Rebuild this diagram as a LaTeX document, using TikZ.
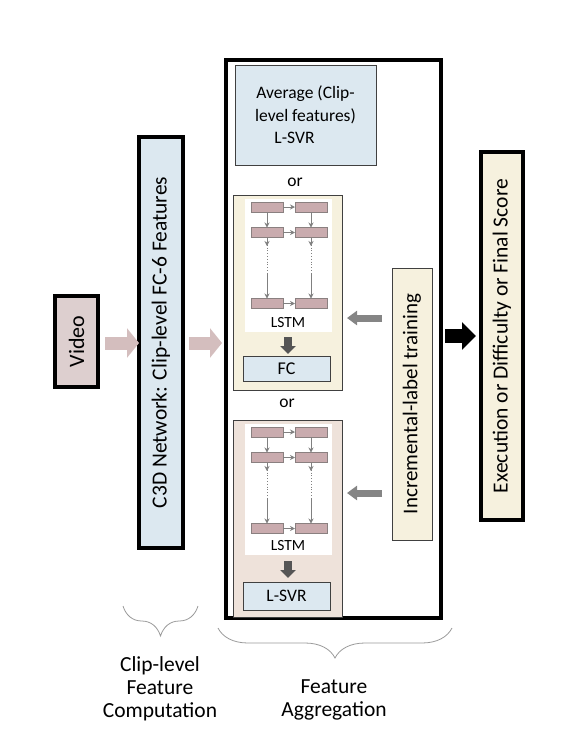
\documentclass[tikz,border=0pt]{standalone}
\usepackage{fontspec}
\setmainfont{Carlito}
\usetikzlibrary{arrows.meta,decorations.pathreplacing,calc}
\definecolor{vidfill}{HTML}{DDCFCF}
\definecolor{bluefill}{HTML}{DCE8F0}
\definecolor{beige}{HTML}{F6F1DE}
\definecolor{pinkbeige}{HTML}{EEE2DA}
\definecolor{cellfill}{HTML}{C9ABAE}
\definecolor{cellline}{HTML}{8A8080}
\definecolor{pinkarrow}{HTML}{D4BEBE}
\definecolor{grayarrow}{HTML}{858585}
\definecolor{darkarrow}{HTML}{555555}
\definecolor{bracecol}{HTML}{9A9A9A}
\tikzset{
  thickbox/.style={draw=black, line width=4pt, inner sep=0pt, outer sep=0pt},
  thinbox/.style={draw=black!75, line width=0.8pt, inner sep=0pt, outer sep=0pt},
  plainarea/.style={fill=white, inner sep=0pt, outer sep=0pt},
  cell/.style={draw=cellline, fill=cellfill, line width=1pt, minimum width=32pt, minimum height=10pt, inner sep=0pt, outer sep=0pt},
  cellarrow/.style={draw=gray, line width=1pt, -{Stealth[length=5pt,width=5pt]}},
  celldots/.style={draw=gray, line width=0.8pt, dotted},
  bigtext/.style={font=\fontsize{21.5}{23}\selectfont, align=center},
  midtext/.style={font=\fontsize{17.5}{22.5}\selectfont, align=center},
  smalltext/.style={font=\fontsize{15.5}{17}\selectfont},
  pinkfat/.style={draw=pinkarrow, line width=13pt, -{Triangle[length=12pt,width=29pt]}},
  grayfat/.style={draw=grayarrow, line width=7pt, -{Triangle[length=10pt,width=14pt]}},
  darkfat/.style={draw=darkarrow, line width=8pt, -{Triangle[length=8pt,width=15pt]}},
  blackfat/.style={draw=black, line width=14pt, -{Triangle[length=14pt,width=27pt]}},
  bracestyle/.style={draw=bracecol, line width=0.8pt, decorate, decoration={brace, mirror, amplitude=30pt}},
}
\newcommand\lstmgrid[2]{%
  \node[cell] (#1a1) at (267,207+#2) {};
  \node[cell] (#1b1) at (311,207+#2) {};
  \node[cell] (#1a2) at (267,232.5+#2) {};
  \node[cell] (#1b2) at (311,232.5+#2) {};
  \node[cell] (#1a3) at (267,303.5+#2) {};
  \node[cell] (#1b3) at (311,303.5+#2) {};
  \draw[cellarrow] (#1a1) -- (#1b1);
  \draw[cellarrow] (#1a2) -- (#1b2);
  \draw[cellarrow] (#1a3) -- (#1b3);
  \draw[cellarrow] (#1a1) -- (#1a2);
  \draw[cellarrow] (#1b1) -- (#1b2);
  \coordinate (#1la) at (267,246+#2);
  \coordinate (#1lb) at (267,274+#2);
  \coordinate (#1ra) at (311,246+#2);
  \coordinate (#1rb) at (311,274+#2);
  \draw[cellarrow] (#1a2) -- (#1la);
  \draw[cellarrow] (#1b2) -- (#1ra);
  \draw[celldots] ([yshift=4pt]#1la) -- (#1lb);
  \draw[celldots] ([yshift=4pt]#1ra) -- (#1rb);
  \draw[cellarrow] (#1lb) -- (#1a3);
  \draw[cellarrow] (#1rb) -- (#1b3);
}
\begin{document}
\begin{tikzpicture}[x=1pt,y=-1pt]
\useasboundingbox (0,0) rectangle (562,740);
% input and feature boxes
\node[thickbox, fill=vidfill, rotate=90, minimum width=91pt, minimum height=43pt, font=\fontsize{22}{24}\selectfont] (video) at (76.5,341.5) {Video};
\node[thickbox, fill=bluefill, rotate=90, minimum width=411pt, minimum height=44pt, bigtext] (c3d) at (161,342.5) {C3D Network: Clip-level FC-6 Features};
% aggregation box
\node[thickbox, minimum width=215pt, minimum height=558pt] (agg) at (333.5,339) {};
\node[thinbox, fill=bluefill, minimum width=141pt, minimum height=100pt, midtext] (avg) at (305.5,115) {Average (Clip-\\level features)\\L-SVR\hspace*{22pt}};
\node[midtext] (or1) at (295,182) {or};
% LSTM option 1
\node[thinbox, fill=beige, minimum width=109pt, minimum height=195pt] (lstm1) at (287.5,292.5) {};
\node[plainarea, minimum width=87pt, minimum height=133pt] (white1) at (288.5,265.5) {};
\lstmgrid{p}{0}
\node[smalltext] (lab1) at (288,323) {LSTM};
\coordinate (d1a) at (288,337);
\coordinate (d1b) at (288,354);
\draw[darkfat] (d1a) -- (d1b);
\node[thinbox, fill=bluefill, minimum width=87pt, minimum height=25pt, font=\fontsize{18}{20}\selectfont] (fc) at (286.5,368.5) {FC};
\node[midtext] (or2) at (287,403) {or};
% LSTM option 2
\node[thinbox, fill=pinkbeige, minimum width=109pt, minimum height=197pt] (lstm2) at (287.5,518.5) {};
\node[plainarea, minimum width=87pt, minimum height=131pt] (white2) at (288.5,489.5) {};
\lstmgrid{q}{225}
\node[smalltext] (lab2) at (288,546) {LSTM};
\coordinate (d2a) at (288,561);
\coordinate (d2b) at (288,578);
\draw[darkfat] (d2a) -- (d2b);
\node[thinbox, fill=bluefill, minimum width=87pt, minimum height=28pt, midtext] (svr) at (286.5,596) {L-SVR};
% incremental training
\node[thinbox, fill=beige, rotate=90, minimum width=272pt, minimum height=40pt, font=\fontsize{21}{23}\selectfont] (incr) at (412,404) {Incremental-label training};
% final score
\node[thickbox, fill=beige, rotate=90, minimum width=368pt, minimum height=42pt, font=\fontsize{21.5}{23}\selectfont] (final) at (502,336) {Execution or Difficulty or Final Score};
% connectors
\coordinate (ya) at (0,343);
\coordinate (g1) at (0,318);
\coordinate (g2) at (0,493);
\coordinate (ky) at (0,336);
\draw[pinkfat, shorten <=7pt] (video.south |- ya) -- (c3d.north |- ya);
\draw[pinkfat, shorten <=6pt, shorten >=4pt] (c3d.south |- ya) -- (agg.west |- ya);
\draw[grayfat, shorten <=10pt, shorten >=5pt] (incr.north |- g1) -- (lstm1.east |- g1);
\draw[grayfat, shorten <=10pt, shorten >=5pt] (incr.north |- g2) -- (lstm2.east |- g2);
\draw[blackfat, shorten <=4pt, shorten >=5pt] (agg.east |- ky) -- (final.north |- ky);
% braces
\coordinate (b1l) at (123,606);
\coordinate (b1r) at (198,606);
\coordinate (b2l) at (218,628);
\coordinate (b2r) at (452,628);
\draw[bracestyle] (b1l) -- (b1r);
\draw[bracestyle] (b2l) -- (b2r);
\node[bigtext] (lab3) at (160,689) {Clip-level\\Feature\\Computation};
\node[bigtext] (lab4) at (334,700) {Feature\\Aggregation};
\end{tikzpicture}
\end{document}
